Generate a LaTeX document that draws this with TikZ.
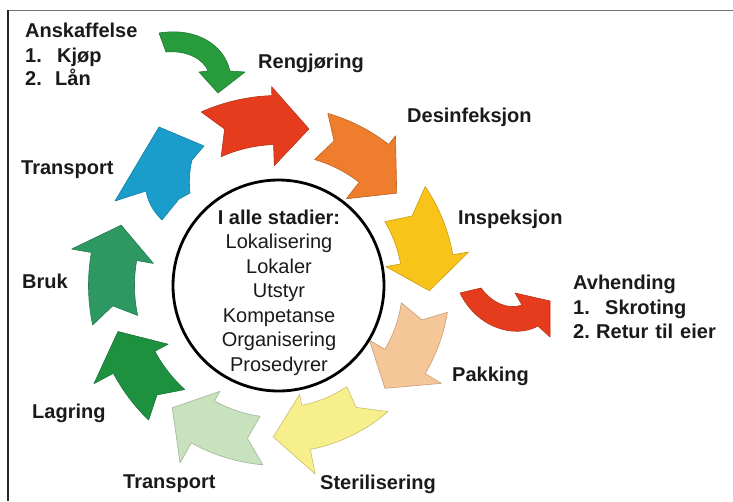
\documentclass[tikz,border=0pt]{standalone}
\usepackage{fontspec}
\setmainfont{Liberation Sans}
\definecolor{cRed}{HTML}{E63C1E}
\definecolor{cOrange}{HTML}{EE7D2D}
\definecolor{cYellow}{HTML}{F9C41A}
\definecolor{cPeach}{HTML}{F5C698}
\definecolor{cLYellow}{HTML}{F7EE8C}
\definecolor{cLGreen}{HTML}{C8E2BE}
\definecolor{cGreen}{HTML}{1E9141}
\definecolor{cMGreen}{HTML}{2D9862}
\definecolor{cBlue}{HTML}{1B9DCB}
\definecolor{cAGreen}{HTML}{289B3C}
\definecolor{txt}{HTML}{1A1A1A}
\tikzset{
  lbl/.style={font=\fontsize{20}{24}\selectfont\bfseries, text=txt, inner sep=0pt, anchor=base west},
  ctr/.style={font=\fontsize{20}{24.5}\selectfont, text=txt, align=center, inner sep=0pt},
  blk/.style={fill=#1, draw=#1!80!black, line width=0.6pt, line join=round},
}
% #1 colour, #2 tail outer angle, #3 tail inner angle, #4 head base angle, #5 tip angle,
% #6 body inner radius, #7 body outer radius, #8 inner barb radius, #9 outer barb radius
\newcommand\cycarrow[9]{%
  \filldraw[blk=#1]
    (#2:#7) arc[start angle=#2, end angle=#4, radius=#7]
    -- (#4:#9) -- (#5:{(#8+#9)/2}) -- (#4:#8) -- (#4:#6)
    arc[start angle=#4, end angle=#3, radius=#6]
    -- ({(#2+#3)/2+5}:{(#6+#7)/2}) -- cycle;}
\begin{document}
\begin{tikzpicture}[x=1pt,y=-1pt]
\useasboundingbox (0,0) rectangle (733,501);
% frame
\draw[line width=1.5pt, black!55] (7.5,10.5) -- (733,10.5);
\draw[line width=1.5pt, black!85] (8,10) -- (8,501);
% cycle arrows
\begin{scope}[shift={(278.5,285.5)}]
  \cycarrow{cRed}{246}{246}{268}{281}{141}{190}{120}{199}
  \cycarrow{cOrange}{286}{286}{308}{322}{131}{179}{110}{190}
  \cycarrow{cYellow}{326}{329}{350}{362}{124}{177}{109}{193}
  \cycarrow{cPeach}{9}{8}{31}{44}{124}{171}{106}{190}
  \cycarrow{cLYellow}{49}{56}{79}{92}{122}{167}{111}{192}
  \cycarrow{cLGreen}{95}{98}{119}{131}{132}{180}{121}{203}
  \cycarrow{cGreen}{134}{132}{152}{164}{140}{187}{125}{209}
  \cycarrow{cMGreen}{168}{168}{190}{201}{144}{190}{127}{210}
\end{scope}
% blue arrow (tilted)
\filldraw[blk=cBlue] (115,201) -- (159,127) -- (204,146) -- (192,160)
  .. controls (189,172) and (189,183) .. (190,193) -- (179,199) -- (162,220)
  .. controls (153,211) and (148,202) .. (146,191) -- cycle;
% side arrows
\filldraw[blk=cAGreen] (159,33) .. controls (197,27) and (224,45) .. (230,71)
  -- (245,72) -- (218,93) -- (199,72) -- (208,71)
  .. controls (204,60) and (188,50) .. (166,52) -- cycle;
\filldraw[blk=cRed] (460,293) -- (481,288) .. controls (492,303) and (508,310) .. (522,305)
  -- (515,293) -- (550,301) -- (550,337) -- (538,326)
  .. controls (515,339) and (477,328) .. (460,293) -- cycle;
% hub
\node[circle, draw=black, line width=2.8pt, minimum size=211pt, inner sep=0pt] (hub) at (278.5,285.5) {};
\node[ctr] (stages) at (279,292.5) {\textbf{I alle stadier:}\\Lokalisering\\Lokaler\\Utstyr\\Kompetanse\\Organisering\\Prosedyrer};
% labels
\node[lbl] (reng) at (258,68) {Rengjøring};
\node[lbl] (desinf) at (407,122) {Desinfeksjon};
\node[lbl] (insp) at (458,224) {Inspeksjon};
\node[lbl] (pakk) at (452,381) {Pakking};
\node[lbl] (steril) at (320,489) {Sterilisering};
\node[lbl] (transB) at (123,488) {Transport};
\node[lbl] (lagr) at (32,418) {Lagring};
\node[lbl] (bruk) at (22,288) {Bruk};
\node[lbl] (transT) at (21,174) {Transport};
\node[lbl] (ansk) at (25,37) {Anskaffelse};
\node[lbl] (anskA) at (25,62) {1.};
\node[lbl] (anskAt) at (57,62) {Kjøp};
\node[lbl] (anskB) at (25,85) {2.};
\node[lbl] (anskBt) at (55,85) {Lån};
\node[lbl] (avh) at (573,289) {Avhending};
\node[lbl] (avhA) at (573,314) {1.};
\node[lbl] (avhAt) at (605,314) {Skroting};
\node[lbl] (avhB) at (573,338) {2.};
\node[lbl] (avhBt) at (596,338) {Retur\hspace{7pt}til\hspace{7pt}eier};
\end{tikzpicture}
\end{document}
